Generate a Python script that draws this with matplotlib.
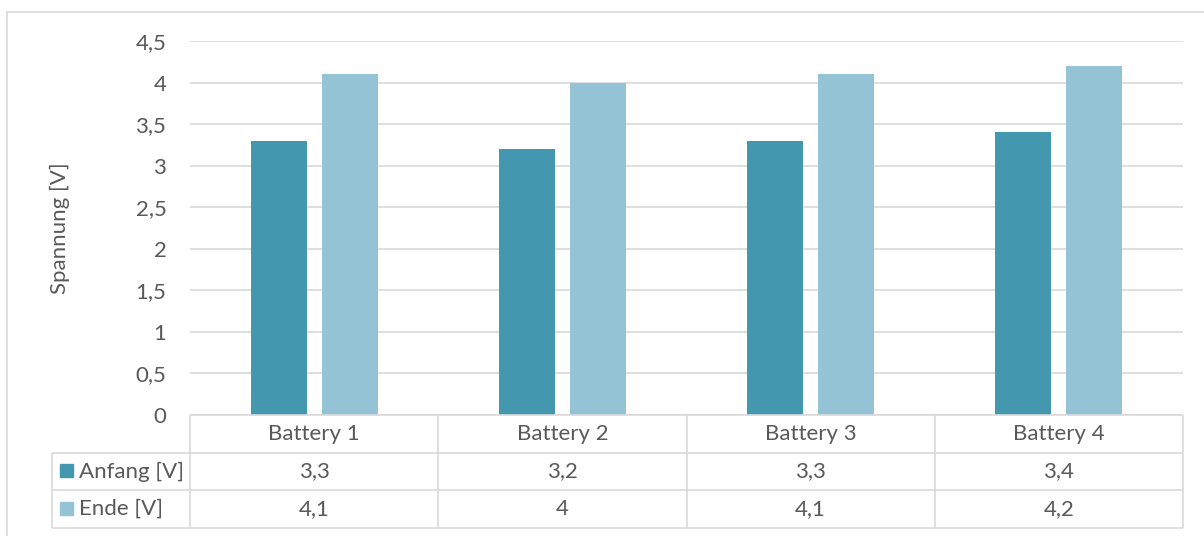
import matplotlib
matplotlib.use('Agg')
import matplotlib.pyplot as plt
from matplotlib.patches import Rectangle
from matplotlib.lines import Line2D

# ── data ──
categories = ['Battery 1', 'Battery 2', 'Battery 3', 'Battery 4']
anfang = [3.3, 3.2, 3.3, 3.4]
ende = [4.1, 4.0, 4.1, 4.2]
series_names = ['Anfang [V]', 'Ende [V]']
y_ticks = [0, 0.5, 1, 1.5, 2, 2.5, 3, 3.5, 4, 4.5]

C_DARK = '#4398B0'
C_LIGHT = '#93C3D5'
GRID = '#D9D9D9'
TXT = '#595959'
FS = 16

plt.rcParams['font.family'] = ['Lato', 'DejaVu Sans']

W, H = 1204, 536
fig = plt.figure(figsize=(W / 100, H / 100), dpi=100)


def fx(px):
    return px / W


def fy(py):
    return 1 - py / H


def de(v):
    return f'{v:g}'.replace('.', ',')


# outer chart border (right/bottom run off the picture)
fig.patches.append(Rectangle((fx(7), fy(545)), fx(1215) - fx(7), fy(12) - fy(545),
                             transform=fig.transFigure, fill=False,
                             edgecolor=GRID, lw=1.2))

# ── main axes ──
ax = fig.add_axes([fx(190), fy(415), fx(1183) - fx(190), fy(41) - fy(415)])
ax.set_xlim(-0.5, 3.5)
ax.set_ylim(0, 4.5)
x = range(len(categories))
bw = 0.226
off = (bw + 0.06) / 2
ax.bar([i - off for i in x], anfang, width=bw, color=C_DARK, zorder=3)
ax.bar([i + off for i in x], ende, width=bw, color=C_LIGHT, zorder=3)

ax.set_yticks(y_ticks)
ax.set_yticklabels([de(v) for v in y_ticks], fontsize=FS, color=TXT)
ax.tick_params(axis='y', length=0, pad=17)
ax.set_xticks([])
ax.grid(axis='y', color=GRID, lw=1.2, zorder=0)
for s in ax.spines.values():
    s.set_visible(False)
ax.set_ylabel('Spannung [V]', fontsize=FS, color=TXT)
ax.yaxis.set_label_coords((60 - 190) / (1183 - 190), 0.5)
ax.yaxis.label.set_va('center')

# ── data table ──
tab = fig.add_axes([fx(52), fy(528), fx(1183) - fx(52), fy(415) - fy(528)])
left = -0.5 - (190 - 52) / 248
tab.set_xlim(left, 3.5)
tab.set_ylim(3, 0)
tab.axis('off')

lk = dict(color=GRID, lw=1.2, solid_capstyle='butt', clip_on=False)
tab.add_line(Line2D([-0.5, 3.5], [0, 0], **lk))
for yy in [1, 2, 3]:
    tab.add_line(Line2D([left, 3.5], [yy, yy], **lk))
tab.add_line(Line2D([left, left], [1, 3], **lk))
for xx in [-0.5, 0.5, 1.5, 2.5, 3.5]:
    tab.add_line(Line2D([xx, xx], [0, 3], **lk))

for i, c in enumerate(categories):
    tab.text(i, 0.5, c, ha='center', va='center', fontsize=FS, color=TXT)
    tab.text(i, 1.5, de(anfang[i]), ha='center', va='center', fontsize=FS, color=TXT)
    tab.text(i, 2.5, de(ende[i]), ha='center', va='center', fontsize=FS, color=TXT)

for r, (name, col) in enumerate(zip(series_names, [C_DARK, C_LIGHT])):
    fig.patches.append(Rectangle((fx(60), fy(477 + r * 38)), fx(13), fy(0) - fy(13),
                                 transform=fig.transFigure, color=col))
    tab.text(left + (79 - 52) / 248, 1.5 + r, name, ha='left', va='center',
             fontsize=FS, color=TXT)

fig.savefig('out.png', dpi=100)
